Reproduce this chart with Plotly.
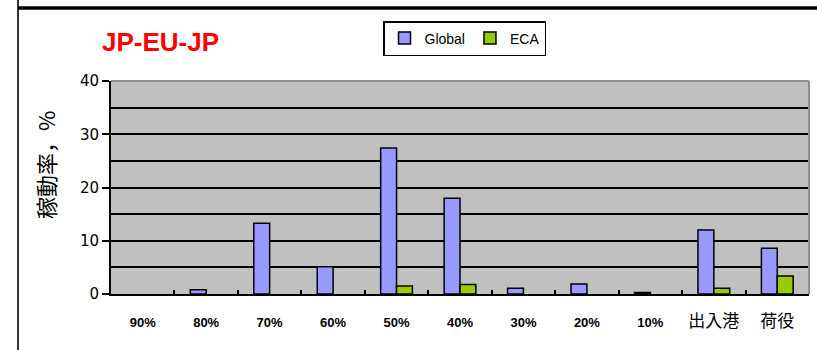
import plotly.graph_objects as go

# Operating ratio by engine load band, JP-EU-JP route
categories = ["90%", "80%", "70%", "60%", "50%", "40%", "30%", "20%", "10%", "出入港", "荷役"]
global_vals = [0, 0.8, 13.3, 5.1, 27.4, 18.0, 1.1, 1.9, 0.3, 12.0, 8.6]
eca_vals = [0, 0, 0, 0, 1.5, 1.8, 0, 0, 0, 1.1, 3.4]
y_ticks = [0, 10, 20, 30, 40]

W, H = 817, 350
L, R, T, B = 111, 8, 81, 56
pw, ph = W - L - R, H - T - B


def px_x(x):
    return (x - L) / pw


def px_y(y):
    return (H - B - y) / ph


def tick_label(s):
    # wider glyphs for the Japanese labels
    if any(ord(c) > 0x2E80 for c in s):
        return f'<span style="font-size:17px">{s}</span>'
    return f"<b>{s}</b>"


def drawn(vals):
    # empty bands are left blank so no outline sits on the axis
    return [v if v > 0 else None for v in vals]


fig = go.Figure()
fig.add_trace(go.Bar(
    x=categories, y=drawn(global_vals), name="Global",
    marker=dict(color="#9999FF", line=dict(color="#000000", width=1.5)),
))
fig.add_trace(go.Bar(
    x=categories, y=drawn(eca_vals), name="ECA",
    marker=dict(color="#99CC00", line=dict(color="#000000", width=1.5)),
))

fig.update_layout(
    width=W, height=H,
    margin=dict(l=L, r=R, t=T, b=B),
    paper_bgcolor="white",
    plot_bgcolor="#C0C0C0",
    barmode="group",
    bargap=0.5,
    bargroupgap=0,
    font=dict(family="Liberation Sans, Arial, sans-serif", color="#000000"),
    showlegend=True,
    legend=dict(
        orientation="h",
        x=px_x(383), y=px_y(21), xanchor="left", yanchor="top",
        bgcolor="white", bordercolor="#000000", borderwidth=1.5,
        font=dict(size=14, family="Liberation Sans, Arial"),
        itemwidth=30, tracegroupgap=0,
    ),
    xaxis=dict(
        type="category",
        tickmode="array", tickvals=categories,
        ticktext=[tick_label(c) for c in categories],
        tickson="boundaries", ticks="inside", ticklen=4, tickwidth=1.5, tickcolor="#000000",
        showline=True, linecolor="#000000", linewidth=2,
        showgrid=False,
        tickfont=dict(size=13, family="Liberation Sans, Noto Sans CJK JP"),
        ticklabelstandoff=15,
    ),
    yaxis=dict(
        range=[0, 40],
        tickmode="array", tickvals=y_ticks,
        ticks="outside", ticklen=7, tickwidth=1.5, tickcolor="#000000",
        showline=True, linecolor="#000000", linewidth=2,
        showgrid=True, gridcolor="#000000", gridwidth=2,
        minor=dict(dtick=5, showgrid=True, gridcolor="#000000", gridwidth=2, ticks=""),
        zeroline=False,
        tickfont=dict(size=15, family="DejaVu Sans"),
    ),
)

# Plot frame (light top/right edge) and outer panel rules
fig.add_shape(type="line", xref="paper", yref="paper", x0=0, x1=1, y0=1, y1=1,
              line=dict(color="#8C8C8C", width=2), layer="above")
fig.add_shape(type="line", xref="paper", yref="paper", x0=1, x1=1, y0=0, y1=1,
              line=dict(color="#8C8C8C", width=2), layer="above")
fig.add_shape(type="line", xref="paper", yref="paper",
              x0=px_x(18), x1=px_x(18), y0=px_y(0), y1=px_y(H),
              line=dict(color="#333333", width=2), layer="above")
fig.add_shape(type="line", xref="paper", yref="paper",
              x0=px_x(18), x1=px_x(W + 5), y0=px_y(8), y1=px_y(8),
              line=dict(color="#000000", width=3.5), layer="above")

# Route title
fig.add_annotation(
    text="<b>JP-EU-JP</b>", xref="paper", yref="paper",
    x=px_x(100), y=px_y(42), xanchor="left", yanchor="middle",
    showarrow=False, font=dict(size=26, color="#FF0000", family="Liberation Sans, Arial"),
)

# Y axis title
fig.add_annotation(
    text="稼動率，%", xref="paper", yref="paper",
    x=px_x(45), y=px_y(165), xanchor="center", yanchor="middle",
    textangle=-90, showarrow=False,
    font=dict(size=22, family="Noto Sans CJK JP"),
)

fig.write_html("out.html")
